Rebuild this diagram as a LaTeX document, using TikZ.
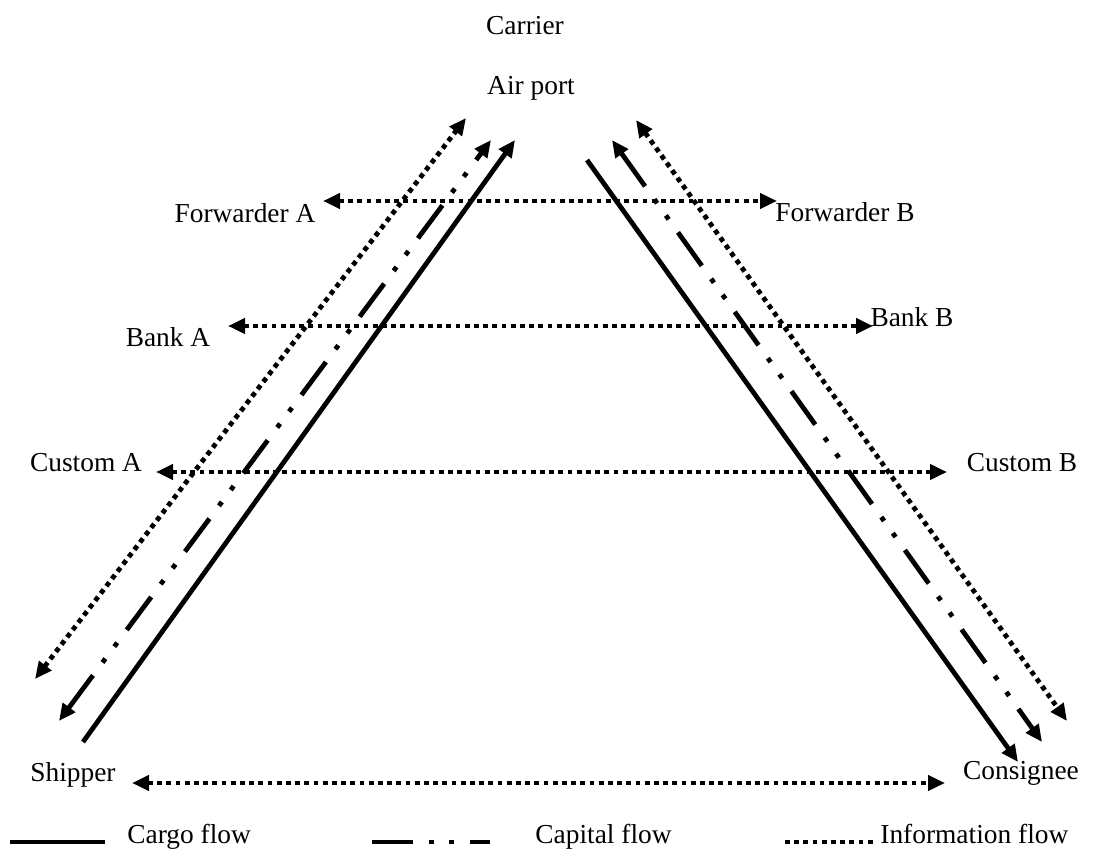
\documentclass[tikz,border=0pt]{standalone}
\usepackage{fontspec}
\setmainfont{Liberation Serif}
\usetikzlibrary{arrows.meta}

\begin{document}
\begin{tikzpicture}[x=0.5pt,y=-0.5pt,
  every node/.style={font=\fontsize{13.7}{16}\selectfont,inner sep=0pt},
  cargo/.style={line width=2.4pt},
  capital/.style={line width=2.4pt,dash pattern=on 20.5pt off 8pt on 2.4pt off 7.5pt on 2.4pt off 8pt},
  info/.style={line width=2.4pt,dash pattern=on 2.4pt off 2.2pt},
  oneway/.style={-{Triangle[length=8.5pt,width=7.5pt]}},
  twoway/.style={{Triangle[length=8.5pt,width=7.5pt]}-{Triangle[length=8.5pt,width=7.5pt]}}]
  \useasboundingbox (0,0) rectangle (1098,850);

  \node (carrier) at (525,26) {Carrier};
  \node (airport) at (531,88) {Air port};
  \node (fwdA) at (245,213) {Forwarder A};
  \node (fwdB) at (845,212) {Forwarder B};
  \node (bankA) at (168,337) {Bank A};
  \node (bankB) at (912,317) {Bank B};
  \node (customA) at (86,463) {Custom A};
  \node (customB) at (1022,463) {Custom B};
  \node (shipper) at (73,775) {Shipper};
  \node (consignee) at (1021,773) {Consignee};

  % shipper side
  \coordinate (infoS) at (35,679);    \coordinate (infoSA) at (466,118);
  \coordinate (capS) at (59,721);     \coordinate (capSA) at (491,140);
  \coordinate (cargoS) at (83,742);   \coordinate (cargoSA) at (515,140);
  \draw[info,twoway] (infoS) -- (infoSA);
  \draw[capital,twoway] (capS) -- (capSA);
  \draw[cargo,oneway] (cargoS) -- (cargoSA);

  % consignee side
  \coordinate (cargoCA) at (587,160); \coordinate (cargoC) at (1018,762);
  \coordinate (capCA) at (612,140);   \coordinate (capC) at (1042,742);
  \coordinate (infoCA) at (636,120);  \coordinate (infoC) at (1067,721);
  \draw[cargo,oneway] (cargoCA) -- (cargoC);
  \draw[capital,twoway] (capCA) -- (capC);
  \draw[info,twoway] (infoCA) -- (infoC);

  % across
  \coordinate (fwdAe) at (323,201);     \coordinate (fwdBw) at (777,201);
  \coordinate (bankAe) at (228,326);    \coordinate (bankBw) at (873,326);
  \coordinate (customAe) at (156,472);  \coordinate (customBw) at (947,472);
  \coordinate (shipperE) at (132,783);  \coordinate (consigneeW) at (945,783);
  \draw[info,twoway] (fwdAe) -- (fwdBw);
  \draw[info,twoway] (bankAe) -- (bankBw);
  \draw[info,twoway] (customAe) -- (customBw);
  \draw[info,twoway] (shipperE) -- (consigneeW);

  % legend
  \node[anchor=base west] (cargoleg) at (127,843) {Cargo flow};
  \node[anchor=base west] (capleg) at (535,843) {Capital flow};
  \node[anchor=base west] (infoleg) at (880,843) {Information flow};
  \coordinate (cargoL1) at (10,842);  \coordinate (cargoL2) at (105,842);
  \coordinate (capL1) at (372,842);   \coordinate (capL2) at (490,842);
  \coordinate (infoL1) at (785,842);  \coordinate (infoL2) at (873,842);
  \draw[cargo] (cargoL1) -- (cargoL2);
  \draw[capital] (capL1) -- (capL2);
  \draw[info] (infoL1) -- (infoL2);
\end{tikzpicture}
\end{document}
